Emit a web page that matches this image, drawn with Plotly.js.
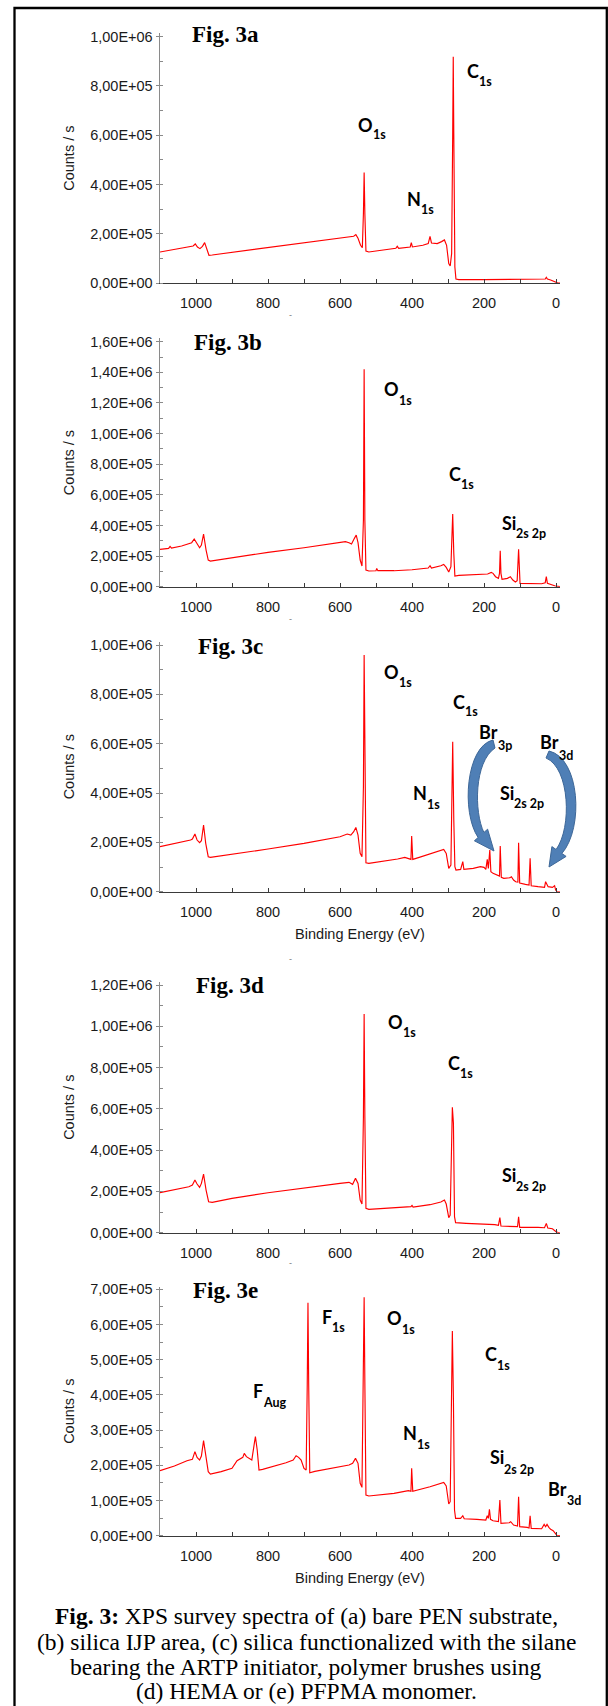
<!DOCTYPE html>
<html>
<head>
<meta charset="utf-8">
<script src="https://cdn.plot.ly/plotly-3.0.1.min.js"></script>
<style>html,body{margin:0;padding:0;background:#fff;}#chart{width:608px;height:1706px;}</style>
</head>
<body>
<div id="chart"></div>
<script>
// ---------- DATA ----------
const xTickVals = [1000, 800, 600, 400, 200, 0];
const xTickText = ["1000", "800", "600", "400", "200", "0"];

const yTickValsA = [0, 200000, 400000, 600000, 800000, 1000000];
const yTickTextA = ["0,00E+00", "2,00E+05", "4,00E+05", "6,00E+05", "8,00E+05", "1,00E+06"];
const yTickValsB = [0, 200000, 400000, 600000, 800000, 1000000, 1200000, 1400000, 1600000];
const yTickTextB = ["0,00E+00", "2,00E+05", "4,00E+05", "6,00E+05", "8,00E+05", "1,00E+06", "1,20E+06", "1,40E+06", "1,60E+06"];
const yTickValsC = [0, 200000, 400000, 600000, 800000, 1000000];
const yTickTextC = ["0,00E+00", "2,00E+05", "4,00E+05", "6,00E+05", "8,00E+05", "1,00E+06"];
const yTickValsD = [0, 200000, 400000, 600000, 800000, 1000000, 1200000];
const yTickTextD = ["0,00E+00", "2,00E+05", "4,00E+05", "6,00E+05", "8,00E+05", "1,00E+06", "1,20E+06"];
const yTickValsE = [0, 100000, 200000, 300000, 400000, 500000, 600000, 700000];
const yTickTextE = ["0,00E+00", "1,00E+05", "2,00E+05", "3,00E+05", "4,00E+05", "5,00E+05", "6,00E+05", "7,00E+05"];

const panelNames = ["Fig. 3a", "Fig. 3b", "Fig. 3c", "Fig. 3d", "Fig. 3e"];

// (a) bare PEN
const energyA = [1100,1060,1020,1008,1002,996,989,982,976,970,
                 964,955,900,800,700,600,572,562,556,550,
                 543,538,535,533,531,528,520,480,445,441,
                 437,405,402,399,370,355,350,346,330,318,
                 310,304,298,294,290,287,285.5,284,281,278,
                 270,200,100,40,30,27,24,15,5,-5,-11];
const countsA = [126000,135500,145000,150400,158500,146300,139600,149000,164000,135500,
                 112500,113800,124700,143600,164000,181600,187000,189700,196500,181600,
                 153100,143600,281800,448500,281800,130000,126000,132800,140900,149000,
                 140900,146300,164000,146300,153100,159900,189700,162600,159900,168000,
                 174800,153100,78600,69100,119200,607000,918700,607000,65000,16300,
                 13600,13600,13600,13600,16300,23000,16300,12200,5400,0,0];

// (b) silica IJP area
const energyB = [1100,1076,1072,1068,1040,1020,1012,1005,998,990,
                 985,979,972,966,960,900,800,700,600,585,
                 575,568,560,555,550,544,539,535,533,531,
                 528,520,500,498,495,450,400,355,350,346,
                 320,312,305,298,292,287,284,281,270,230,
                 190,180,175,168,160,157,155,153,150,135,
                 127,120,113,108,104,100,80,40,30,27,
                 24,18,10,2,-5,-11];
const countsB = [243800,250000,263400,252000,265600,283000,287400,311300,283000,254700,
                 272000,344000,239500,174200,167600,189400,224200,254700,287400,293900,
                 287400,278700,315700,337400,287400,174200,135000,435400,1419400,435400,
                 108900,102300,104500,119700,104500,104500,111000,121900,137200,121900,
                 137200,145900,126300,95800,130600,474600,217700,69700,74000,76200,
                 82700,93600,87100,65300,54400,87100,235100,87100,47900,54400,
                 65300,43500,30500,39200,243800,21800,21800,19600,26100,65300,
                 21800,15200,10900,4400,0,0];

// (c) silane with ATRP initiator
const energyC = [1100,1060,1025,1015,1010,1003,997,990,985,979,
                 973,966,960,900,800,700,600,580,570,562,
                 556,550,544,539,535,533,531,528,520,480,
                 440,420,410,403,401,398,380,350,320,312,
                 305,298,292,287,284,281,278,265,259,256,
                 230,210,200,195,191,188,184,181,175,165,
                 157,155,152,145,128,124,118,112,106,104,
                 101,85,75,72,69,50,32,29,27,22,
                 10,4,1,-3,-11];
const countsC = [182400,194500,206700,209400,213500,233700,209400,198600,206700,270200,
                 195900,141900,139200,151300,172900,195900,222900,233700,229600,243200,
                 260700,229600,155400,141900,425600,959200,425600,117500,114800,122900,
                 132400,139200,133800,131000,225600,131000,139200,152700,166200,171600,
                 155400,94600,108100,608000,291800,101300,87800,90500,121600,90500,
                 94600,101300,98600,90500,131000,94600,168900,81100,74300,67600,
                 63500,185100,58100,54000,56700,60800,47300,40500,39200,198600,
                 35100,29700,27000,135100,24300,20300,17600,40500,33800,20300,
                 17600,24300,6800,0,0];

// (d) HEMA brushes
const energyD = [1100,1060,1020,1010,1003,997,990,985,979,972,
                 965,955,900,800,700,600,575,565,557,550,
                 544,539,535,533,531,528,520,450,403,400,
                 397,350,320,310,305,298,294,288,285,282,
                 279,250,200,170,160,156,153,120,107,104,
                 101,50,32,27,23,10,0,-8,-11];
const countsD = [193800,206700,222900,230900,255200,235800,219600,239000,284200,206700,
                 150200,147000,166300,193800,218000,239000,243900,234200,263200,239000,
                 158300,138900,562000,1059400,562000,117900,113000,119500,126000,132400,
                 124400,135700,148600,158300,138900,72700,85600,607200,529700,77500,
                 48500,45200,42000,38800,35500,72700,32300,30700,29100,77500,
                 25800,25800,24200,45200,22600,19400,4800,0,0];

// (e) PFPMA brushes
const energyE = [1100,1060,1025,1015,1010,1003,997,990,985,979,
                 973,966,960,930,900,886,870,866,860,852,
                 845,838,835,830,825,815,780,750,730,722,
                 715,708,700,694,691,689,687,684,670,600,
                 575,565,557,550,544,539,535,533,531,528,
                 520,450,410,403,401,398,350,320,312,305,
                 298,294,288,285,282,279,265,259,255,220,
                 195,191,188,185,182,175,160,156,153,130,
                 126,118,112,107,104,101,80,75,72,69,
                 40,33,29,25,20,15,8,2,-3,-11];
const countsE = [184700,198000,213100,216900,216900,238700,222600,215000,226400,270000,
                 224500,181900,175200,181900,191300,213100,222600,234000,224500,218800,
                 215000,262400,281300,243400,186600,188500,198000,207400,215000,227300,
                 222600,215000,191300,186600,432000,662100,432000,179000,182800,196100,
                 200800,205500,219700,205500,148700,137300,432900,677200,432900,115600,
                 112700,120300,127900,126000,191300,126000,139200,148700,151600,141200,
                 90000,96600,581600,385500,72900,49300,49300,56800,48300,46400,
                 44500,56800,49300,74800,46400,42600,39800,101400,35000,36900,
                 39800,30300,27500,27500,110800,25600,23700,21800,56800,20800,
                 19900,32200,25600,32200,23700,18000,14200,6600,0,0];

// ---------- LAYOUT HELPERS ----------
const W = 608, H = 1706, ML = 160, MR = 48, PW = W - ML - MR;
const px2x = px => (px - ML) / PW;
const py2y = py => 1 - py / H;

// per panel: pixel of zero, pixel of top tick, top tick value, pixel of axis top
const geom = [
  {zero: 283.0,  tickPx: 36.7,   tickVal: 1000000, topPx: 33.3},
  {zero: 586.7,  tickPx: 341.7,  tickVal: 1600000, topPx: 338.3},
  {zero: 891.7,  tickPx: 645.0,  tickVal: 1000000, topPx: 641.7},
  {zero: 1232.7, tickPx: 985.0,  tickVal: 1200000, topPx: 981.7},
  {zero: 1535.7, tickPx: 1289.3, tickVal: 700000,  topPx: 1286.7}
];
const energies = [energyA, energyB, energyC, energyD, energyE];
const counts = [countsA, countsB, countsC, countsD, countsE];
const yVals = [yTickValsA, yTickValsB, yTickValsC, yTickValsD, yTickValsE];
const yTexts = [yTickTextA, yTickTextB, yTickTextC, yTickTextD, yTickTextE];
const ySteps = [200000, 200000, 200000, 200000, 100000];

const tickFont = {family: "Liberation Sans, Arial, sans-serif", size: 14.5, color: "#1a1a1a"};
const data = [];
const layout = {
  width: W, height: H,
  margin: {l: ML, r: MR, t: 0, b: 0, pad: 0},
  paper_bgcolor: "#ffffff", plot_bgcolor: "rgba(0,0,0,0)",
  showlegend: false,
  annotations: [], shapes: []
};

for (let i = 0; i < 5; i++) {
  const sfx = i === 0 ? "" : String(i + 1);
  const g = geom[i];
  const rangeTop = g.tickVal * (g.zero - g.topPx) / (g.zero - g.tickPx);
  data.push({
    type: "scatter", mode: "lines",
    x: energies[i], y: counts[i],
    xaxis: "x" + sfx, yaxis: "y" + sfx,
    line: {color: "#ff0000", width: 1.15},
    hoverinfo: "x+y"
  });
  const showTitle = (i === 2 || i === 4);
  const xa = {
    domain: [0, 1], anchor: "y" + sfx, range: [1100, -11],
    showgrid: false, zeroline: false,
    showline: true, linecolor: "#3a3a3a", linewidth: 1.4,
    tickmode: "array", tickvals: xTickVals, ticktext: xTickText,
    ticks: "inside", ticklen: 4, tickcolor: "#3a3a3a", tickwidth: 1,
    ticklabelstandoff: 6,
    minor: {tickmode: "linear", tick0: 0, dtick: 100, ticks: "inside", ticklen: 4, tickcolor: "#3a3a3a"},
    tickfont: tickFont
  };
  if (showTitle) xa.title = {text: "Binding Energy (eV)", font: tickFont, standoff: 10};
  layout["xaxis" + sfx] = xa;
  layout["yaxis" + sfx] = {
    domain: [py2y(g.zero), py2y(g.topPx)], anchor: "x" + sfx,
    range: [0, rangeTop],
    showgrid: false, zeroline: false,
    showline: true, linecolor: "#8a8a8a", linewidth: 1.4,
    tickmode: "array", tickvals: yVals[i], ticktext: yTexts[i],
    ticks: "outside", ticklen: 3, tickcolor: "#8a8a8a", tickwidth: 1,
    ticklabelstandoff: 0,
    minor: {tickmode: "linear", tick0: 0, dtick: ySteps[i] / 2, ticks: "inside", ticklen: 3, tickcolor: "#8a8a8a"},
    tickfont: tickFont,
    title: {text: "Counts / s", font: tickFont, standoff: 12}
  };
}

// Panel titles (Fig. 3a ... 3e): left px, center py
const figPos = [[192, 35], [194, 342.7], [197.7, 646.7], [195.8, 985], [193, 1290]];
figPos.forEach((p, i) => {
  layout.annotations.push({
    xref: "paper", yref: "paper", x: px2x(p[0]), y: py2y(p[1]),
    xanchor: "left", yanchor: "middle", showarrow: false, borderpad: 0, borderwidth: 0,
    text: panelNames[i],
    font: {family: "Liberation Serif, Times New Roman, serif", size: 23, color: "#000", weight: "bold"}
  });
});

// Peak labels: [element, subscript, x px where subscript starts, main center py, sub center py]
const peakLabels = [
  ["O", "1s", 372, 125, 135], ["N", "1s", 420.5, 199, 210], ["C", "1s", 478, 71, 81.7],
  ["O", "1s", 398, 389.3, 400], ["C", "1s", 460, 474, 484.3], ["Si", "2s 2p", 515, 522.7, 533],
  ["O", "1s", 398.2, 671.7, 682.3], ["C", "1s", 464, 701.7, 711.7], ["Br", "3p", 497, 731.7, 745],
  ["Br", "3d", 558.3, 741.7, 755], ["N", "1s", 426.5, 793.3, 804.3], ["Si", "2s 2p", 513.3, 792.7, 803.3],
  ["O", "1s", 402, 1021.7, 1032.7], ["C", "1s", 459.5, 1062.7, 1073.3], ["Si", "2s 2p", 515, 1175, 1186],
  ["F", "1s", 331.5, 1316.7, 1327.7], ["O", "1s", 401.3, 1317.7, 1329], ["C", "1s", 496.3, 1354, 1365],
  ["F", "Aug", 262.5, 1390.7, 1402.3], ["N", "1s", 416.8, 1433.3, 1444], ["Si", "2s 2p", 503.3, 1457.3, 1469.3],
  ["Br", "3d", 566, 1489.3, 1500]
];
const labelFamily = "Lato, Noto Sans, sans-serif";
peakLabels.forEach(p => {
  layout.annotations.push({
    xref: "paper", yref: "paper", x: px2x(p[2] + 0.5), y: py2y(p[3]),
    xanchor: "right", yanchor: "middle", showarrow: false, borderpad: 0, borderwidth: 0,
    text: p[0],
    font: {family: labelFamily, size: 18, color: "#000", weight: "bold"}
  });
  layout.annotations.push({
    xref: "paper", yref: "paper", x: px2x(p[2] + 0.5), y: py2y(p[4]),
    xanchor: "left", yanchor: "middle", showarrow: false, borderpad: 0, borderwidth: 0,
    text: p[1],
    font: {family: labelFamily, size: 12.5, color: "#000", weight: "bold"}
  });
});

// stray marks below some axes
[[290, 315], [290, 619], [290, 959], [290, 1263]].forEach(p => {
  layout.annotations.push({
    xref: "paper", yref: "paper", x: px2x(p[0]), y: py2y(p[1]),
    xanchor: "center", yanchor: "middle", showarrow: false, text: "-",
    font: {family: "Liberation Sans, Arial", size: 9, color: "#777"}
  });
});

// Caption lines: [text, center py]
const captionLines = [
  ["<b>Fig. 3:</b> XPS survey spectra of (a) bare PEN substrate,", 1616],
  ["(b) silica IJP area, (c) silica functionalized with the silane", 1642],
  ["bearing the ARTP initiator, polymer brushes using", 1667],
  ["(d) HEMA or (e) PFPMA monomer.", 1691]
];
captionLines.forEach(c => {
  layout.annotations.push({
    xref: "paper", yref: "paper", x: px2x(306), y: py2y(c[1]),
    xanchor: "center", yanchor: "middle", showarrow: false, text: c[0],
    font: {family: "Liberation Serif, Times New Roman, serif", size: 23.5, color: "#000"}
  });
});

// Frame around the figure
layout.shapes.push({
  type: "rect", xref: "paper", yref: "paper",
  x0: px2x(14.5), x1: px2x(606.8), y0: py2y(1712), y1: py2y(8),
  line: {color: "#000", width: 2.3}, fillcolor: "rgba(0,0,0,0)", layer: "above"
});

// Curved Br arrows in panel c (decorations), given in pixels
function pathFromPx(cmds) {
  return cmds.map(c => {
    const op = c[0];
    const pts = [];
    for (let k = 1; k < c.length; k += 2) pts.push(px2x(c[k]).toFixed(5) + "," + py2y(c[k + 1]).toFixed(5));
    return op + " " + pts.join(" ");
  }).join(" ") + " Z";
}
const arrowLeft = [
  ["M", 493, 740],
  ["C", 466, 746, 461, 812, 478.1, 837.5],
  ["L", 474.4, 840.8], ["L", 494, 851], ["L", 487.6, 829.2], ["L", 483.9, 832.5],
  ["C", 474, 812, 474, 762, 495, 748]
];
const arrowRight = [
  ["M", 549, 751],
  ["C", 580, 758, 584, 828, 561.9, 853.5],
  ["L", 566.1, 856.4], ["L", 549, 867], ["L", 551.9, 846.6], ["L", 556.1, 849.5],
  ["C", 572, 828, 570, 768, 546, 758]
];
[arrowLeft, arrowRight].forEach(a => {
  layout.shapes.push({
    type: "path", xref: "paper", yref: "paper", path: pathFromPx(a),
    fillcolor: "#4f7fb6", line: {color: "#3d6798", width: 1}, layer: "above"
  });
});

Plotly.newPlot("chart", data, layout, {staticPlot: true, displayModeBar: false});
</script>
</body>
</html>
